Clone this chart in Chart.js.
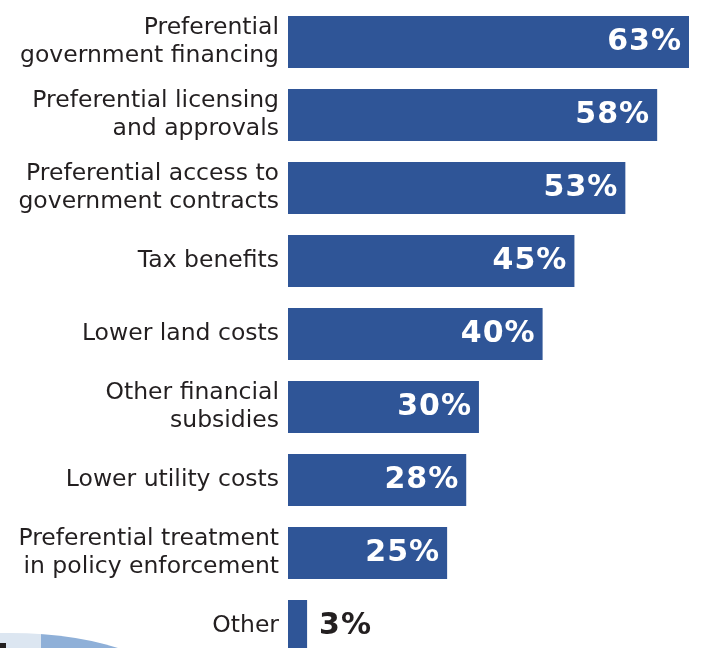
<!DOCTYPE html>
<html>
<head>
<meta charset="utf-8">
<script src="https://cdn.jsdelivr.net/npm/chart.js@4/dist/chart.umd.min.js"></script>
<style>
html, body { margin: 0; padding: 0; background: #ffffff; overflow: hidden; }
#wrap { position: relative; width: 701px; height: 664px; }
</style>
</head>
<body>
<div id="wrap"><canvas id="incentivesChart"></canvas></div>
<script>
// survey answers, share of respondents
const categories = [
  ['Preferential', 'government financing'],
  ['Preferential licensing', 'and approvals'],
  ['Preferential access to', 'government contracts'],
  'Tax benefits',
  'Lower land costs',
  ['Other financial', 'subsidies'],
  'Lower utility costs',
  ['Preferential treatment', 'in policy enforcement'],
  'Other'
];
const shares = [63, 58, 53, 45, 40, 30, 28, 25, 3];

const BAR_BLUE = '#2f5597';
const INK = '#231f20';

// percent labels on/after each bar
const valueLabels = {
  id: 'valueLabels',
  afterDatasetsDraw(chart) {
    const ctx = chart.ctx;
    const meta = chart.getDatasetMeta(0);
    ctx.save();
    ctx.font = 'bold 30px "DejaVu Sans"';
    ctx.letterSpacing = '1px';
    ctx.textBaseline = 'middle';
    meta.data.forEach((bar, i) => {
      const txt = shares[i] + '%';
      if (shares[i] >= 10) {
        ctx.fillStyle = '#ffffff';
        ctx.textAlign = 'right';
        ctx.fillText(txt, bar.x - 7, bar.y);
      } else {
        ctx.fillStyle = INK;
        ctx.textAlign = 'left';
        ctx.fillText(txt, bar.x + 12, bar.y);
      }
    });
    ctx.restore();
  }
};

// bit of the next graphic peeking in at bottom left
const cornerBits = {
  id: 'cornerBits',
  beforeDraw(chart) {
    const ctx = chart.ctx;
    ctx.save();
    ctx.beginPath();
    ctx.ellipse(10, 700, 171, 67, 0, 0, Math.PI * 2);
    ctx.save();
    ctx.clip();
    ctx.fillStyle = '#dce6f1';
    ctx.fillRect(0, 600, 41, 100);
    ctx.fillStyle = '#8fb0d8';
    ctx.fillRect(41, 600, 200, 100);
    ctx.restore();
    ctx.fillStyle = INK;
    ctx.fillRect(0, 643, 6, 10);
    ctx.restore();
  }
};

new Chart(document.getElementById('incentivesChart'), {
  type: 'bar',
  data: {
    labels: categories,
    datasets: [{
      data: shares,
      backgroundColor: BAR_BLUE,
      borderWidth: 0,
      barPercentage: 0.712,
      categoryPercentage: 1
    }]
  },
  options: {
    indexAxis: 'y',
    responsive: true,
    maintainAspectRatio: false,
    animation: false,
    layout: { padding: { top: 5.5, bottom: 1.5, left: 0, right: 12 } },
    plugins: {
      legend: { display: false },
      tooltip: { enabled: false }
    },
    scales: {
      x: {
        display: false,
        min: 0,
        max: 63
      },
      y: {
        grid: { display: false },
        border: { display: false },
        afterFit(scale) {
          scale.width = 288;
          scale.paddingTop = 0;
          scale.paddingBottom = 0;
        },
        ticks: {
          color: INK,
          padding: 1,
          font: { family: '"DejaVu Sans"', size: 23.5, lineHeight: 1.2 }
        }
      }
    }
  },
  plugins: [cornerBits, valueLabels]
});
</script>
</body>
</html>
